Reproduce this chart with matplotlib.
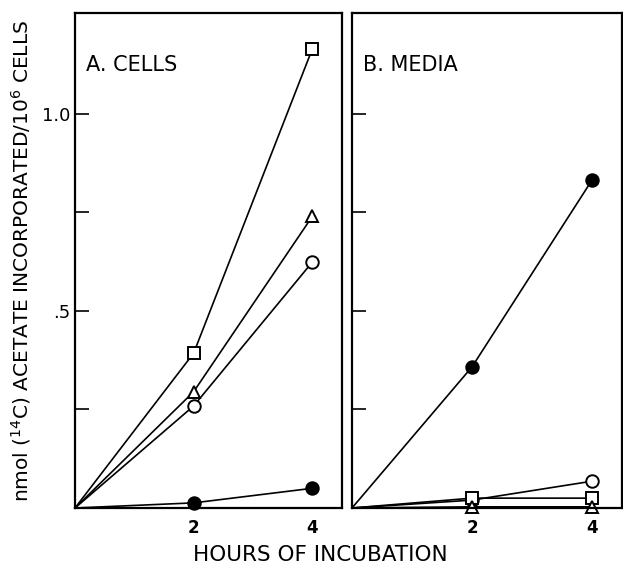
import numpy as np
import matplotlib
matplotlib.use("Agg")
import matplotlib.pyplot as plt

# hours of incubation
hours = [0, 2, 4]

# A. cells
cells_square = [0, 0.393, 1.165]
cells_triangle = [0, 0.295, 0.74]
cells_circle = [0, 0.259, 0.624]
cells_filled = [0, 0.013, 0.05]

# B. media
media_filled = [0, 0.358, 0.832]
media_circle = [0, 0.020, 0.068]
media_square = [0, 0.025, 0.025]
media_triangle = [0, 0.003, 0.003]

plt.rcParams['font.family'] = ['DejaVu Sans']

fig = plt.figure(figsize=(6.23, 5.65), dpi=100)
axA = fig.add_axes([75/623, 57/565, 267/623, 495/565])
axB = fig.add_axes([352/623, 57/565, 270/623, 495/565])

def draw(ax, series):
    for y, m, fc in series:
        ax.plot(hours, y, color="black", lw=1.2, marker=m, markevery=[1, 2],
                ms=9, mfc=fc, mec="black", mew=1.4, clip_on=False)

draw(axA, [(cells_filled, "o", "black"), (cells_circle, "o", "white"),
           (cells_triangle, "^", "white"), (cells_square, "s", "white")])
draw(axB, [(media_filled, "o", "black"), (media_circle, "o", "white"),
           (media_square, "s", "white"), (media_triangle, "^", "white")])

for ax in (axA, axB):
    ax.set_xlim(0, 4.5)
    ax.set_ylim(0, 1.256)
    ax.set_xticks([2, 4])
    ax.set_xticklabels(["2", "4"], fontsize=12, fontweight="bold")
    ax.set_yticks([0.25, 0.5, 0.75, 1.0])
    ax.tick_params(axis="y", direction="in", length=10, width=1.2)
    ax.tick_params(axis="x", length=0, pad=8)
    for s in ax.spines.values():
        s.set_linewidth(1.6)

axA.set_yticklabels(["", ".5", "", "1.0"], fontsize=13)
axB.set_yticklabels([])

axA.text(0.18, 1.11, "A. CELLS", fontsize=15)
axB.text(0.18, 1.11, "B. MEDIA", fontsize=15)

axA.set_ylabel(r"nmol ($^{14}$C) ACETATE INCORPORATED/10$^6$ CELLS", fontsize=14.5, labelpad=6)
fig.text(320/623, 1 - 555/565, "HOURS OF INCUBATION", fontsize=15.5, ha="center", va="center")

fig.savefig("out.png", dpi=100)
